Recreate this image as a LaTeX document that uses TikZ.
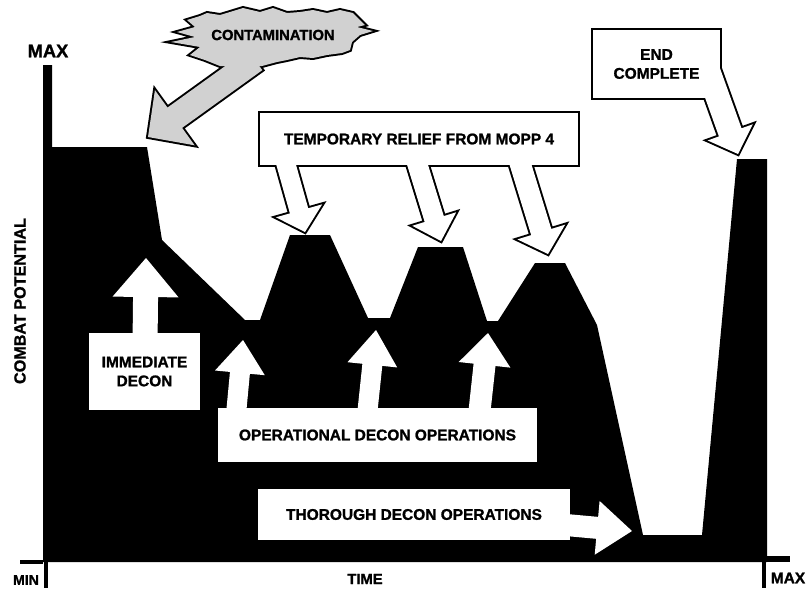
\documentclass[tikz,border=0pt]{standalone}
\usepackage{fontspec}
\setmainfont{Liberation Sans}[BoldFeatures={FakeBold=1.2}]
\usetikzlibrary{calc,positioning,backgrounds}
\definecolor{Smoke}{gray}{0.82}
\newcommand{\pxu}{0.025cm}
% block arrow: from, tip, shaft half width, head half width, head length (px)
\newcommand{\fatarrow}[5]{($(#1)!{#3*\pxu}!90:(#2)$) -- ($(#2)!{veclen(#5,#3)*\pxu}!{-atan(#3/#5)}:(#1)$) -- ($(#2)!{veclen(#5,#4)*\pxu}!{-atan(#4/#5)}:(#1)$) -- (#2) -- ($(#2)!{veclen(#5,#4)*\pxu}!{atan(#4/#5)}:(#1)$) -- ($(#2)!{veclen(#5,#3)*\pxu}!{atan(#3/#5)}:(#1)$) -- ($(#1)!{#3*\pxu}!-90:(#2)$) -- cycle}

\begin{document}
\begin{tikzpicture}[x=\pxu, y=-\pxu,
    panel/.style={rectangle, inner sep=0pt, align=center, font=\bfseries\fontsize{11pt}{13.5pt}\selectfont},
    axislabel/.style={inner sep=0pt, font=\bfseries\fontsize{11pt}{13pt}\selectfont},
    rim/.style={draw=black, line width=2.8pt, line join=miter},
    blank/.style={fill=white},
    smoky/.style={fill=Smoke}]
  \useasboundingbox (0,0) rectangle (810,588);

  \node[panel, minimum width=7.95cm, minimum height=1.3cm] (relief) at (419,139) {TEMPORARY RELIEF FROM MOPP 4};
  \node[panel, minimum width=3.175cm, minimum height=1.7cm] (endbox) at (656.5,64) {END\\COMPLETE};
  \node[panel, minimum width=2.775cm, minimum height=1.925cm] (immediate) at (144.5,371.5) {IMMEDIATE\\DECON};
  \node[panel, minimum width=7.975cm, minimum height=1.35cm] (operational) at (377.5,435) {OPERATIONAL DECON OPERATIONS};
  \node[panel, minimum width=7.8cm, minimum height=1.275cm] (thorough) at (414,514.5) {THOROUGH DECON OPERATIONS};
  \node[panel, font=\bfseries\fontsize{10.5pt}{12pt}\selectfont] (contam) at (273,35) {CONTAMINATION};

  \node[axislabel, font=\bfseries\fontsize{13pt}{15pt}\selectfont] (ymax) at (48,51) {MAX};
  \node[axislabel, font=\bfseries\fontsize{10pt}{12pt}\selectfont] (xmin) at (26,580) {MIN};
  \node[axislabel] (xmax) at (788,578) {MAX};
  \node[axislabel, font=\bfseries\fontsize{10.5pt}{12pt}\selectfont] (time) at (365,579) {TIME};
  \node[axislabel, rotate=90, font=\bfseries\fontsize{11.5pt}{13pt}\selectfont] (potential) at (20,301) {COMBAT POTENTIAL};

  % arrow ends
  \coordinate (cloudS) at (255,60);  \coordinate (cloudT) at (148,137);
  \coordinate (relief1) at (282,150); \coordinate (peak1) at (305,232);
  \coordinate (relief2) at (413,150); \coordinate (peak2) at (441,241);
  \coordinate (relief3) at (516,150); \coordinate (peak3) at (548,254);
  \coordinate (endS) at (705,62);     \coordinate (endT) at (738,154);
  \coordinate (immS) at (145,345);    \coordinate (immT) at (146,258);
  \coordinate (opS1) at (235,425);    \coordinate (opT1) at (243,340);
  \coordinate (opS2) at (366,425);    \coordinate (opT2) at (376,330);
  \coordinate (opS3) at (478,425);    \coordinate (opT3) at (488,333);
  \coordinate (thS) at (555,524);     \coordinate (thT) at (632,531);

  \begin{pgfonlayer}{background}
    % combat potential curve
    \fill[black] (43,65) -- (52,65) -- (52,147) -- (147,147) -- (162,240) -- (245,320) -- (260,320)
      -- (290,235) -- (330,235) -- (368,318) -- (390,318) -- (418,247) -- (463,247) -- (487,321)
      -- (498,321) -- (535,263) -- (565,263) -- (597,325) -- (643,535) -- (702,535) -- (737,159)
      -- (767,159) -- (767,562) -- (43,562) -- cycle;
    \draw[line width=2.8pt] (20,562) -- (43,562);
    \draw[line width=4.2pt] (767,559) -- (790,559);
    \draw[line width=2.8pt] (46,560) -- (46,588);
    \draw[line width=2.8pt] (764,560) -- (764,588);

    \foreach \look/\smoke in {rim/rim, blank/smoky}{
      \path[\smoke] (187,20) -- (200,16) -- (207,13) -- (220,15) -- (230,12) -- (243,8) -- (260,12)
        -- (273,8) -- (287,13) -- (300,12) -- (313,10) -- (327,13) -- (340,10) -- (353,13) -- (360,20)
        -- (365,25) -- (357,27) -- (373,31) -- (360,35) -- (352,42) -- (350,50) -- (342,53) -- (327,55)
        -- (313,58) -- (300,57) -- (287,60) -- (277,62) -- (262,66) -- (220,66) -- (205,60) -- (190,55)
        -- (200,47) -- (171,42) -- (195,37) -- (177,32) -- (195,27) -- cycle;
      \path[\smoke] \fatarrow{cloudS}{cloudT}{12.5}{34}{33};
      \path[\look] (relief.south west) rectangle (relief.north east);
      \path[\look] \fatarrow{relief1}{peak1}{9.5}{24}{22};
      \path[\look] \fatarrow{relief2}{peak2}{10}{23}{23};
      \path[\look] \fatarrow{relief3}{peak3}{10.5}{25}{23};
      \path[\look] (endbox.south west) rectangle (endbox.north east);
      \path[\look] \fatarrow{endS}{endT}{12}{24}{23};
      \path[\look] (immediate.south west) rectangle (immediate.north east);
      \path[\look] \fatarrow{immS}{immT}{12.5}{33}{39};
      \path[\look] (operational.south west) rectangle (operational.north east);
      \path[\look] \fatarrow{opS1}{opT1}{10}{25}{33};
      \path[\look] \fatarrow{opS2}{opT2}{10}{25}{35};
      \path[\look] \fatarrow{opS3}{opT3}{11}{26}{32};
      \path[\look] (thorough.south west) rectangle (thorough.north east);
      \path[\look] \fatarrow{thS}{thT}{11}{27}{35};
    }
  \end{pgfonlayer}
\end{tikzpicture}
\end{document}
